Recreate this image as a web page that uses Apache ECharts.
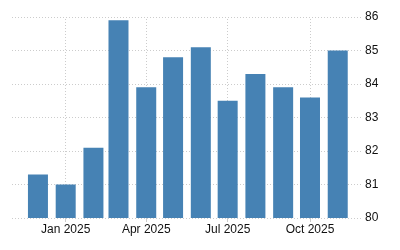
<!DOCTYPE html>
<html>
<head>
<meta charset="utf-8">
<script src="https://cdn.jsdelivr.net/npm/echarts@6/dist/echarts.min.js"></script>
<style>html,body{margin:0;padding:0;background:#fff}#c{width:400px;height:250px}</style>
</head>
<body>
<div id="c"></div>
<script>
// month index (year, month 0-based) of each bar
var months = [[2024,11],[2025,0],[2025,1],[2025,2],[2025,3],[2025,4],[2025,5],[2025,6],[2025,7],[2025,8],[2025,9],[2025,10]];
var values = [81.3, 81.0, 82.1, 85.9, 83.9, 84.8, 85.1, 83.5, 84.3, 83.9, 83.6, 85.0];
var tickMonths = [[2025,0],[2025,3],[2025,6],[2025,9]];
var yTicks = [80, 81, 82, 83, 84, 85, 86];

function t(ym, d) { return new Date(ym[0], ym[1], d || 1).getTime(); }
var data = months.map(function (m, i) { return [t(m), values[i]]; });
var ticks = tickMonths.map(function (m) { return t(m); });

var chart = echarts.init(document.getElementById('c'), null, {renderer: 'canvas'});
chart.setOption({
  animation: false,
  grid: {left: 12, right: 39, top: 17, bottom: 32, containLabel: false, outerBoundsMode: 'none'},
  xAxis: {
    type: 'value',
    min: t([2024,10], 2),
    max: t([2025,10], 27),
    axisLine: {show: false},
    axisTick: {show: true, length: 4, lineStyle: {color: '#ccc'}, customValues: ticks},
    axisLabel: {
      customValues: ticks,
      formatter: function (v) { return echarts.time.format(v, '{MMM} {yyyy}', false); },
      color: '#111',
      fontFamily: 'Liberation Sans, Arial, sans-serif',
      fontSize: 12,
      margin: 6
    },
    splitLine: {show: false}
  },
  yAxis: {
    type: 'value',
    position: 'right',
    min: yTicks[0],
    max: yTicks[yTicks.length - 1],
    interval: 1,
    axisLine: {show: false},
    axisTick: {show: false},
    axisLabel: {color: '#111', fontFamily: 'Liberation Sans, Arial, sans-serif', fontSize: 12, margin: 4},
    splitLine: {show: true, lineStyle: {color: '#ccc', type: [1, 2]}}
  },
  series: [{
    type: 'bar',
    data: data,
    barWidth: 20,
    itemStyle: {color: '#4682b4'},
    z: 2,
    markLine: {
      silent: true,
      symbol: 'none',
      z: 1,
      label: {show: false},
      lineStyle: {color: '#ccc', type: [1, 2], width: 1},
      emphasis: {disabled: true},
      data: ticks.map(function (v) { return {xAxis: v}; })
    }
  }]
});
</script>
</body>
</html>
